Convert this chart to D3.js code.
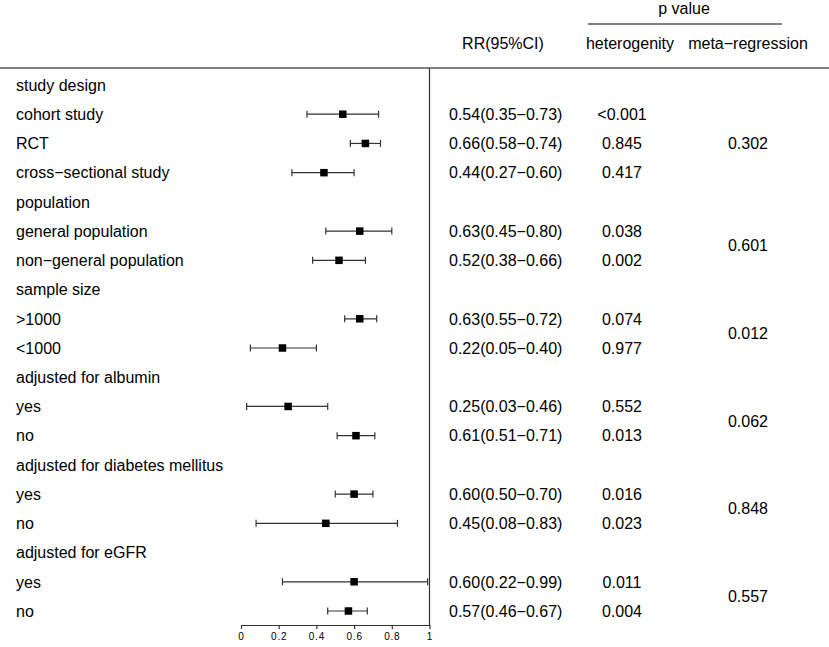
<!DOCTYPE html>
<html>
<head>
<meta charset="utf-8">
<script src="https://cdn.jsdelivr.net/npm/d3@7"></script>
<style>
  body { margin: 0; background: #fff; }
  svg text { font-family: "Liberation Sans", Arial, sans-serif; fill: #000; }
</style>
</head>
<body>
<svg id="forest"></svg>
<script>
const groups = ["study design", "population", "sample size", "adjusted for albumin",
  "adjusted for diabetes mellitus", "adjusted for eGFR"];
const groupSizes = [3, 2, 2, 2, 2, 2];
const subgroups = ["cohort study", "RCT", "cross\u2212sectional study", "general population",
  "non\u2212general population", ">1000", "<1000", "yes", "no", "yes", "no", "yes", "no"];
const rr = [0.54, 0.66, 0.44, 0.63, 0.52, 0.63, 0.22, 0.25, 0.61, 0.60, 0.45, 0.60, 0.57];
const ciLow = [0.35, 0.58, 0.27, 0.45, 0.38, 0.55, 0.05, 0.03, 0.51, 0.50, 0.08, 0.22, 0.46];
const ciHigh = [0.73, 0.74, 0.60, 0.80, 0.66, 0.72, 0.40, 0.46, 0.71, 0.70, 0.83, 0.99, 0.67];
const pHetero = ["<0.001", "0.845", "0.417", "0.038", "0.002", "0.074", "0.977",
  "0.552", "0.013", "0.016", "0.023", "0.011", "0.004"];
const pMeta = ["0.302", "0.601", "0.012", "0.062", "0.848", "0.557"];
const xTicks = [0, 0.2, 0.4, 0.6, 0.8, 1];

const width = 829;
const height = 647;
const fontSize = 16;

const fmt = d3.format(".2f");

// flatten groups + subgroups into rows
let rows = [];
let metaRows = [];
let k = 0;
for (let g = 0; g < groups.length; g++) {
  rows.push({ label: groups[g], heading: true });
  let first = rows.length;
  for (let j = 0; j < groupSizes[g]; j++) {
    rows.push({ label: subgroups[k], heading: false, i: k });
    k += 1;
  }
  metaRows.push({ pos: first + (groupSizes[g] - 1) / 2, p: pMeta[g] });
}

const x = d3.scaleLinear([0, 1], [241, 429.5]);
const y = d3.scaleLinear([0, rows.length - 1], [85, 611]);
const axisY = 625;

const svg = d3.select("svg#forest")
  .attr("width", width)
  .attr("height", height)
  .attr("viewBox", [0, 0, width, height]);

// header
svg.append("text").attr("x", 684).attr("y", 14).attr("text-anchor", "middle")
  .style("font-size", fontSize + "px").text("p value");
svg.append("line").attr("x1", 588).attr("x2", 782).attr("y1", 24).attr("y2", 24)
  .attr("stroke", "#000").attr("stroke-width", 1.2);
svg.append("text").attr("x", 503).attr("y", 49).attr("text-anchor", "middle")
  .style("font-size", fontSize + "px").text("RR(95%CI)");
svg.append("text").attr("x", 630).attr("y", 49).attr("text-anchor", "middle")
  .style("font-size", fontSize + "px").text("heterogenity");
svg.append("text").attr("x", 748).attr("y", 49).attr("text-anchor", "middle")
  .style("font-size", fontSize + "px").text("meta\u2212regression");

svg.append("line").attr("x1", 0).attr("x2", width).attr("y1", 68).attr("y2", 68)
  .attr("stroke", "#000").attr("stroke-width", 1.2);
svg.append("line").attr("x1", x(1)).attr("x2", x(1)).attr("y1", 68).attr("y2", axisY)
  .attr("stroke", "#333").attr("stroke-width", 1.2);

// row labels
svg.append("g").selectAll("text").data(rows).join("text")
  .attr("x", 16)
  .attr("y", (d, i) => y(i))
  .attr("dy", "0.36em")
  .style("font-size", fontSize + "px")
  .text(d => d.label);

const items = rows.map((d, i) => ({ ...d, row: i })).filter(d => !d.heading);

// error bars
const bars = svg.append("g").attr("stroke", "#333").attr("stroke-width", 1.2);
bars.selectAll("line.ci").data(items).join("line").attr("class", "ci")
  .attr("x1", d => x(ciLow[d.i])).attr("x2", d => x(ciHigh[d.i]))
  .attr("y1", d => y(d.row)).attr("y2", d => y(d.row));
bars.selectAll("line.lo").data(items).join("line").attr("class", "lo")
  .attr("x1", d => x(ciLow[d.i])).attr("x2", d => x(ciLow[d.i]))
  .attr("y1", d => y(d.row) - 3.5).attr("y2", d => y(d.row) + 3.5);
bars.selectAll("line.hi").data(items).join("line").attr("class", "hi")
  .attr("x1", d => x(ciHigh[d.i])).attr("x2", d => x(ciHigh[d.i]))
  .attr("y1", d => y(d.row) - 3.5).attr("y2", d => y(d.row) + 3.5);

svg.append("g").selectAll("rect").data(items).join("rect")
  .attr("x", d => x(rr[d.i]) - 3.75).attr("y", d => y(d.row) - 3.75)
  .attr("width", 7.5).attr("height", 7.5).attr("fill", "#000");

// RR text and heterogeneity p
svg.append("g").selectAll("text").data(items).join("text")
  .attr("x", 449).attr("y", d => y(d.row)).attr("dy", "0.36em")
  .style("font-size", fontSize + "px")
  .text(d => `${fmt(rr[d.i])}(${fmt(ciLow[d.i])}\u2212${fmt(ciHigh[d.i])})`);
svg.append("g").selectAll("text").data(items).join("text")
  .attr("x", 622).attr("y", d => y(d.row)).attr("dy", "0.36em")
  .attr("text-anchor", "middle")
  .style("font-size", fontSize + "px")
  .text(d => pHetero[d.i]);

// meta-regression p, centred in each group
svg.append("g").selectAll("text").data(metaRows).join("text")
  .attr("x", 748).attr("y", d => y(d.pos)).attr("dy", "0.36em")
  .attr("text-anchor", "middle")
  .style("font-size", fontSize + "px")
  .text(d => d.p);

// x axis
svg.append("g")
  .attr("transform", `translate(0,${axisY})`)
  .call(d3.axisBottom(x).tickValues(xTicks).tickFormat(d => String(d)).tickSize(4).tickSizeOuter(0))
  .call(g => g.select(".domain").attr("stroke", "#333").attr("stroke-width", 1.2))
  .call(g => g.selectAll(".tick line").attr("stroke", "#333").attr("stroke-width", 1.2))
  .call(g => g.selectAll(".tick text").attr("y", 8).style("font-size", "10px")
    .style("letter-spacing", "0.8px")
    .style("font-family", "'Liberation Sans', Arial, sans-serif"));
</script>
</body>
</html>
